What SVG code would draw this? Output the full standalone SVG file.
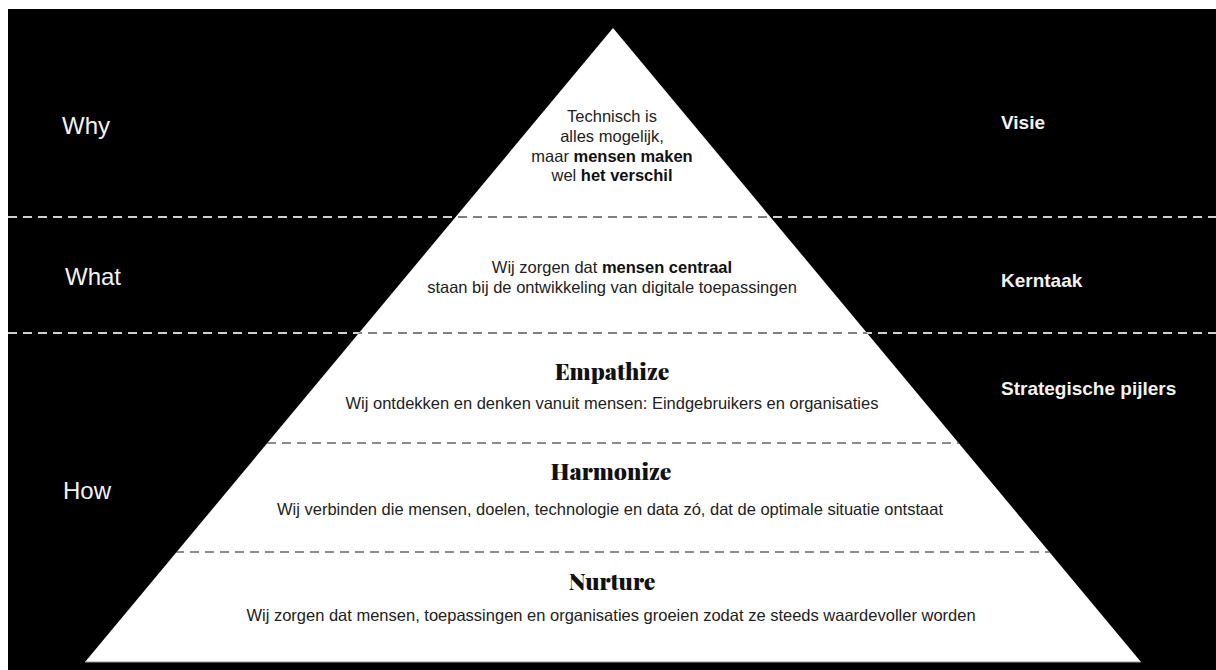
<svg xmlns="http://www.w3.org/2000/svg" width="1216" height="670" viewBox="0 0 1216 670">
  <style>
    .side { font-family: "Liberation Sans", Arial, sans-serif; font-size: 24px; fill: #f2f2f2; }
    .role { font-family: "Liberation Sans", Arial, sans-serif; font-size: 19px; font-weight: bold; fill: #f2f2f2; }
    .body { font-family: "Liberation Sans", Arial, sans-serif; font-size: 16.5px; fill: #222; text-anchor: middle; }
    .b { font-weight: bold; fill: #111; }
    .head { font-family: "Playfair Display", "Liberation Serif", "DejaVu Serif", serif; font-size: 23px; font-weight: 900; fill: #111; text-anchor: middle; }
    .dash-dark { stroke: #d0d0d0; stroke-width: 1.8; stroke-dasharray: 9 6; fill: none; }
    .dash-light { stroke: #666; stroke-width: 1.6; stroke-dasharray: 9 6; fill: none; }
  </style>
  <defs>
    <clipPath id="tri">
      <polygon points="613,28 1141,662 85,662"/>
    </clipPath>
  </defs>

  <rect x="0" y="0" width="1216" height="670" fill="#ffffff"/>
  <rect x="8" y="9" width="1208" height="661" fill="#000000"/>

  <g id="pyramid">
    <polygon points="613,28 1141,662 85,662" fill="#ffffff"/>
    <line x1="85" y1="662" x2="1141" y2="662" stroke="#999" stroke-width="1"/>
  </g>

  <g id="dividers">
    <line class="dash-dark" x1="8" y1="217" x2="1216" y2="217"/>
    <line class="dash-dark" x1="8" y1="333" x2="1216" y2="333"/>
    <g clip-path="url(#tri)">
      <line class="dash-light" x1="8" y1="217" x2="1216" y2="217"/>
      <line class="dash-light" x1="8" y1="333" x2="1216" y2="333"/>
      <line class="dash-light" x1="267" y1="443" x2="959" y2="443"/>
      <line class="dash-light" x1="175" y1="552" x2="1051" y2="552"/>
    </g>
  </g>

  <g id="why">
    <text class="side" x="62" y="134">Why</text>
  </g>
  <g id="what">
    <text class="side" x="65" y="285">What</text>
  </g>
  <g id="how">
    <text class="side" x="63" y="499">How</text>
  </g>

  <g id="visie">
    <text class="role" x="1001" y="129">Visie</text>
  </g>
  <g id="kerntaak">
    <text class="role" x="1001" y="287">Kerntaak</text>
  </g>
  <g id="strategische-pijlers">
    <text class="role" x="1001" y="395">Strategische pijlers</text>
  </g>

  <g id="tier-visie">
    <text class="body" x="612" y="122">Technisch is</text>
    <text class="body" x="612" y="142">alles mogelijk,</text>
    <text class="body" x="612" y="162">maar <tspan class="b">mensen maken</tspan></text>
    <text class="body" x="612" y="181">wel <tspan class="b">het verschil</tspan></text>
  </g>

  <g id="tier-kerntaak">
    <text class="body" x="612" y="273">Wij zorgen dat <tspan class="b">mensen centraal</tspan></text>
    <text class="body" x="612" y="293">staan bij de ontwikkeling van digitale toepassingen</text>
  </g>

  <g id="tier-empathize">
    <text class="head" x="612" y="380">Empathize</text>
    <text class="body" x="612" y="409">Wij ontdekken en denken vanuit mensen: Eindgebruikers en organisaties</text>
  </g>

  <g id="tier-harmonize">
    <text class="head" x="611" y="480">Harmonize</text>
    <text class="body" x="610" y="515">Wij verbinden die mensen, doelen, technologie en data zó, dat de optimale situatie ontstaat</text>
  </g>

  <g id="tier-nurture">
    <text class="head" x="612" y="590">Nurture</text>
    <text class="body" x="611" y="621">Wij zorgen dat mensen, toepassingen en organisaties groeien zodat ze steeds waardevoller worden</text>
  </g>
</svg>
